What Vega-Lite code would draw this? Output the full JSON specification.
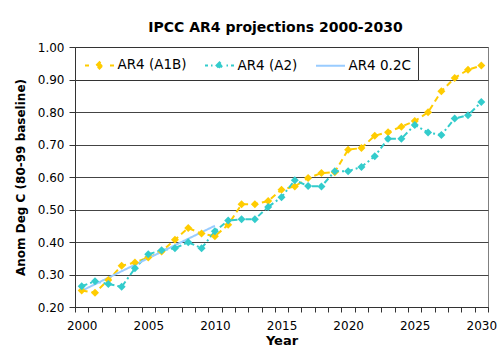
{
  "$schema": "https://vega.github.io/schema/vega-lite/v6.json",
  "autosize": {"type": "none"},
  "width": 413,
  "height": 260,
  "padding": {"left": 75, "top": 47, "right": 12, "bottom": 46},
  "background": "white",
  "title": {"text": "IPCC AR4 projections 2000-2030", "font": "DejaVu Sans", "fontSize": 14, "fontWeight": "bold", "color": "black", "offset": 6, "dx": -6},
  "data": {"values": [
    {"series": "AR4 (A1B)", "year": 2000, "value": 0.251},
    {"series": "AR4 (A1B)", "year": 2001, "value": 0.244},
    {"series": "AR4 (A1B)", "year": 2002, "value": 0.283},
    {"series": "AR4 (A1B)", "year": 2003, "value": 0.327},
    {"series": "AR4 (A1B)", "year": 2004, "value": 0.337},
    {"series": "AR4 (A1B)", "year": 2005, "value": 0.352},
    {"series": "AR4 (A1B)", "year": 2006, "value": 0.371},
    {"series": "AR4 (A1B)", "year": 2007, "value": 0.407},
    {"series": "AR4 (A1B)", "year": 2008, "value": 0.443},
    {"series": "AR4 (A1B)", "year": 2009, "value": 0.426},
    {"series": "AR4 (A1B)", "year": 2010, "value": 0.418},
    {"series": "AR4 (A1B)", "year": 2011, "value": 0.453},
    {"series": "AR4 (A1B)", "year": 2012, "value": 0.516},
    {"series": "AR4 (A1B)", "year": 2013, "value": 0.516},
    {"series": "AR4 (A1B)", "year": 2014, "value": 0.526},
    {"series": "AR4 (A1B)", "year": 2015, "value": 0.561},
    {"series": "AR4 (A1B)", "year": 2016, "value": 0.571},
    {"series": "AR4 (A1B)", "year": 2017, "value": 0.597},
    {"series": "AR4 (A1B)", "year": 2018, "value": 0.612},
    {"series": "AR4 (A1B)", "year": 2019, "value": 0.615},
    {"series": "AR4 (A1B)", "year": 2020, "value": 0.684},
    {"series": "AR4 (A1B)", "year": 2021, "value": 0.689},
    {"series": "AR4 (A1B)", "year": 2022, "value": 0.727},
    {"series": "AR4 (A1B)", "year": 2023, "value": 0.738},
    {"series": "AR4 (A1B)", "year": 2024, "value": 0.755},
    {"series": "AR4 (A1B)", "year": 2025, "value": 0.772},
    {"series": "AR4 (A1B)", "year": 2026, "value": 0.799},
    {"series": "AR4 (A1B)", "year": 2027, "value": 0.864},
    {"series": "AR4 (A1B)", "year": 2028, "value": 0.905},
    {"series": "AR4 (A1B)", "year": 2029, "value": 0.930},
    {"series": "AR4 (A1B)", "year": 2030, "value": 0.943},
    {"series": "AR4 (A2)", "year": 2000, "value": 0.264},
    {"series": "AR4 (A2)", "year": 2001, "value": 0.279},
    {"series": "AR4 (A2)", "year": 2002, "value": 0.271},
    {"series": "AR4 (A2)", "year": 2003, "value": 0.262},
    {"series": "AR4 (A2)", "year": 2004, "value": 0.319},
    {"series": "AR4 (A2)", "year": 2005, "value": 0.362},
    {"series": "AR4 (A2)", "year": 2006, "value": 0.375},
    {"series": "AR4 (A2)", "year": 2007, "value": 0.381},
    {"series": "AR4 (A2)", "year": 2008, "value": 0.399},
    {"series": "AR4 (A2)", "year": 2009, "value": 0.381},
    {"series": "AR4 (A2)", "year": 2010, "value": 0.433},
    {"series": "AR4 (A2)", "year": 2011, "value": 0.466},
    {"series": "AR4 (A2)", "year": 2012, "value": 0.470},
    {"series": "AR4 (A2)", "year": 2013, "value": 0.470},
    {"series": "AR4 (A2)", "year": 2014, "value": 0.508},
    {"series": "AR4 (A2)", "year": 2015, "value": 0.538},
    {"series": "AR4 (A2)", "year": 2016, "value": 0.590},
    {"series": "AR4 (A2)", "year": 2017, "value": 0.572},
    {"series": "AR4 (A2)", "year": 2018, "value": 0.571},
    {"series": "AR4 (A2)", "year": 2019, "value": 0.618},
    {"series": "AR4 (A2)", "year": 2020, "value": 0.618},
    {"series": "AR4 (A2)", "year": 2021, "value": 0.631},
    {"series": "AR4 (A2)", "year": 2022, "value": 0.664},
    {"series": "AR4 (A2)", "year": 2023, "value": 0.718},
    {"series": "AR4 (A2)", "year": 2024, "value": 0.718},
    {"series": "AR4 (A2)", "year": 2025, "value": 0.760},
    {"series": "AR4 (A2)", "year": 2026, "value": 0.737},
    {"series": "AR4 (A2)", "year": 2027, "value": 0.729},
    {"series": "AR4 (A2)", "year": 2028, "value": 0.780},
    {"series": "AR4 (A2)", "year": 2029, "value": 0.790},
    {"series": "AR4 (A2)", "year": 2030, "value": 0.831},
    {"series": "AR4 0.2C", "year": 2000, "value": 0.25},
    {"series": "AR4 0.2C", "year": 2010, "value": 0.45}
  ]},
  "encoding": {
    "x": {"field": "year", "type": "quantitative",
      "scale": {"domain": [1999.5, 2030.5], "nice": false, "zero": false},
      "axis": {
        "values": [1999.5, 2000.5, 2001.5, 2002.5, 2003.5, 2004.5, 2005.5, 2006.5, 2007.5, 2008.5, 2009.5, 2010.5, 2011.5, 2012.5, 2013.5, 2014.5, 2015.5, 2016.5, 2017.5, 2018.5, 2019.5, 2020.5, 2021.5, 2022.5, 2023.5, 2024.5, 2025.5, 2026.5, 2027.5, 2028.5, 2029.5, 2030.5],
        "labelExpr": "(datum.value + 0.5) % 5 == 0 && datum.value < 2030 ? format(datum.value + 0.5, 'd') : ''",
        "labelOffset": 6.67, "labelFlush": false, "labelOverlap": false,
        "grid": false, "tickSize": 5, "labelPadding": 8, "labelFontSize": 12,
        "title": "Year", "titleFontSize": 13, "titleFontWeight": "bold", "titlePadding": 3
      }},
    "y": {"field": "value", "type": "quantitative",
      "scale": {"domain": [0.2, 1.0], "nice": false, "zero": false},
      "axis": {
        "values": [0.2, 0.3, 0.4, 0.5, 0.6, 0.7, 0.8, 0.9, 1.0], "format": ".2f",
        "grid": true, "tickSize": 6, "labelPadding": 5, "labelFontSize": 12,
        "title": "Anom Deg C (80-99 baseline)", "titleFontSize": 12, "titleFontWeight": "bold", "titlePadding": 10
      }},
    "color": {"field": "series", "type": "nominal",
      "scale": {"domain": ["AR4 (A1B)", "AR4 (A2)", "AR4 0.2C"], "range": ["#FFCC00", "#33CCCC", "#99CCFF"]},
      "legend": {
        "title": null, "orient": "top-left", "offset": 0, "direction": "horizontal",
        "fillColor": "white", "strokeColor": "#333333", "padding": 7,
        "symbolSize": 400, "symbolOffset": 6.5, "symbolStrokeWidth": 2, "labelFontSize": 13.5, "labelFont": "DejaVu Sans", "labelColor": "black",
        "labelOffset": 7, "columnPadding": 14, "labelLimit": 200,
        "encode": {"symbols": {"update": {
          "shape": {"signal": "datum.value === 'AR4 (A1B)' ? 'M-1.45,0H-1.05M-0.32,0L0,-0.32L0.32,0L0,0.32ZM1.05,0H1.45' : datum.value === 'AR4 (A2)' ? 'M-1.45,0H-1.15M-0.85,0H-0.7M-0.3,0L0,-0.3L0.3,0L0,0.3ZM0.7,0H0.85M1.15,0H1.45' : 'M-1.45,0H1.45'"},
          "fill": {"scale": "color", "field": "value"},
          "stroke": {"scale": "color", "field": "value"},
          "strokeDash": {"value": []},
          "opacity": {"value": 1}
        }}}
      }}
  },
  "layer": [
    {"mark": {"type": "line", "strokeWidth": 2},
     "encoding": {
       "strokeDash": {"field": "series", "type": "nominal",
         "scale": {"domain": ["AR4 (A1B)", "AR4 (A2)", "AR4 0.2C"], "range": [[6, 4], [6, 3, 2, 3], [1, 0]]},
         "legend": null}
     }},
    {"transform": [{"filter": "datum.series !== 'AR4 0.2C'"}],
     "mark": {"type": "point", "shape": "diamond", "filled": true, "size": 64, "opacity": 1},
     "encoding": {}}
  ],
  "config": {
    "view": {"stroke": "#808080"},
    "axis": {"domainColor": "#333333", "tickColor": "#333333", "gridColor": "#444444", "labelColor": "black", "titleColor": "black", "labelFont": "DejaVu Sans", "titleFont": "DejaVu Sans"}
  }
}
